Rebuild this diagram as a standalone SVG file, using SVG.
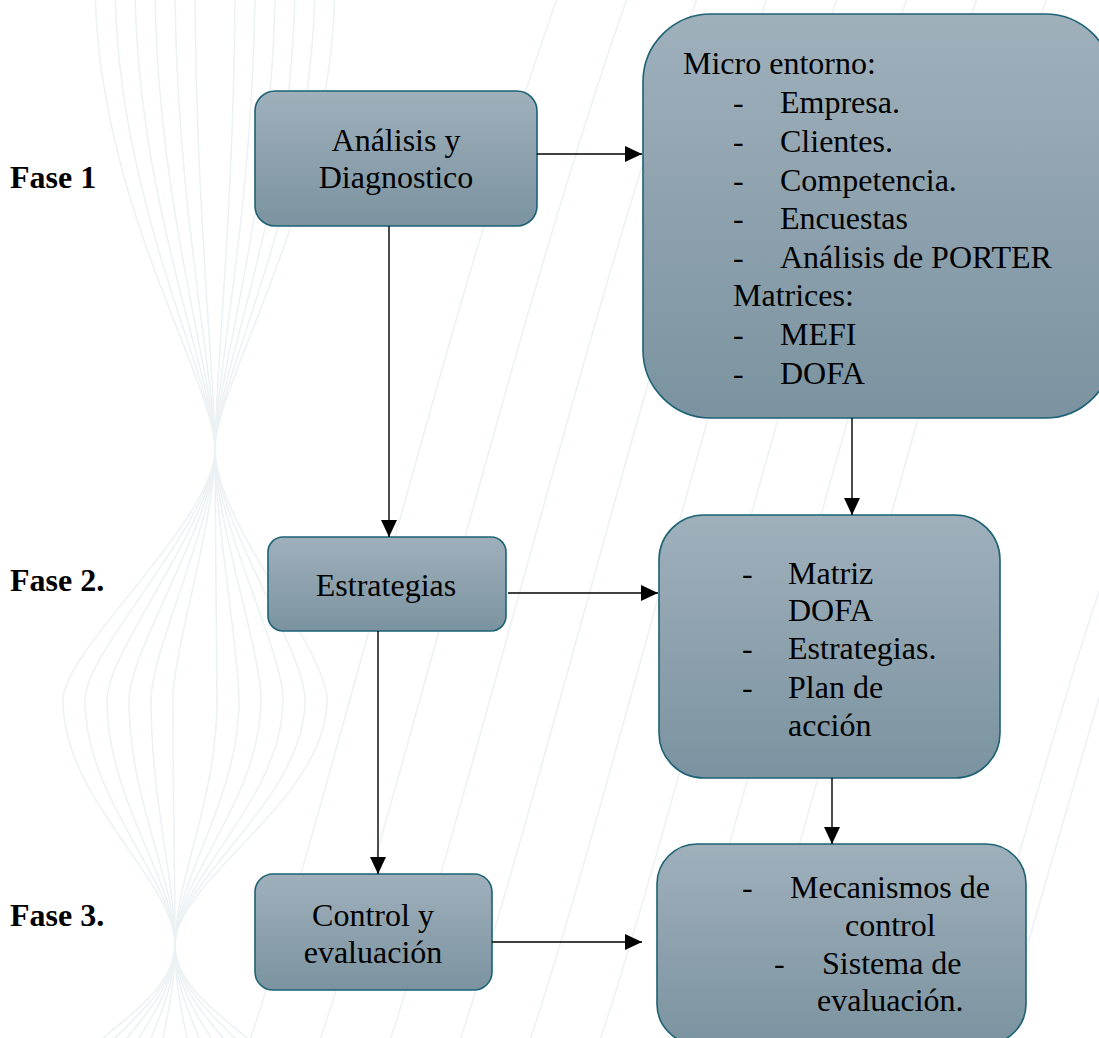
<svg xmlns="http://www.w3.org/2000/svg" width="1099" height="1038" viewBox="0 0 1099 1038">
<defs>
<linearGradient id="boxfill" x1="0" y1="0" x2="0" y2="1">
<stop offset="0" stop-color="#9fb0bb"/>
<stop offset="1" stop-color="#7b93a0"/>
</linearGradient>
<marker id="arr" markerUnits="userSpaceOnUse" markerWidth="18" markerHeight="16" refX="17" refY="8" orient="auto">
<path d="M0,0 L17,8 L0,16 Z" fill="#000"/>
</marker>
<style>
.box{fill:url(#boxfill);stroke:#1d6275;stroke-width:1.6}
.t{font-family:"Liberation Serif","Times New Roman",serif;font-size:32px;fill:#000}
.c{text-anchor:middle}
.fase{font-family:"Liberation Serif","Times New Roman",serif;font-size:32px;font-weight:bold;fill:#000}
.conn{stroke:#000;stroke-width:1.4;fill:none;marker-end:url(#arr)}
.bg{stroke:#ecf1f4;stroke-width:1.5;fill:none}
</style>
</defs>
<rect width="1099" height="1038" fill="#fff"/>
<g id="background">
<path class="bg" d="M95 -20 C95 200 215 380 215 450 C215 520 63 650 63 700 C63 800 175 880 175 945 C175 1000 85 1040 85 1060"/>
<path class="bg" d="M115 -20 C115 200 215 380 215 450 C215 520 85 650 85 700 C85 800 175 880 175 945 C175 1000 100 1040 100 1060"/>
<path class="bg" d="M135 -20 C135 200 215 380 215 450 C215 520 107 650 107 700 C107 800 175 880 175 945 C175 1000 115 1040 115 1060"/>
<path class="bg" d="M155 -20 C155 200 215 380 215 450 C215 520 129 650 129 700 C129 800 175 880 175 945 C175 1000 130 1040 130 1060"/>
<path class="bg" d="M175 -20 C175 200 215 380 215 450 C215 520 151 650 151 700 C151 800 175 880 175 945 C175 1000 145 1040 145 1060"/>
<path class="bg" d="M195 -20 C195 200 215 380 215 450 C215 520 173 650 173 700 C173 800 175 880 175 945 C175 1000 160 1040 160 1060"/>
<path class="bg" d="M235 -20 C235 200 215 380 215 450 C215 520 217 650 217 700 C217 800 175 880 175 945 C175 1000 190 1040 190 1060"/>
<path class="bg" d="M255 -20 C255 200 215 380 215 450 C215 520 239 650 239 700 C239 800 175 880 175 945 C175 1000 205 1040 205 1060"/>
<path class="bg" d="M275 -20 C275 200 215 380 215 450 C215 520 261 650 261 700 C261 800 175 880 175 945 C175 1000 220 1040 220 1060"/>
<path class="bg" d="M295 -20 C295 200 215 380 215 450 C215 520 283 650 283 700 C283 800 175 880 175 945 C175 1000 235 1040 235 1060"/>
<path class="bg" d="M315 -20 C315 200 215 380 215 450 C215 520 305 650 305 700 C305 800 175 880 175 945 C175 1000 250 1040 250 1060"/>
<path class="bg" d="M335 -20 C335 200 215 380 215 450 C215 520 327 650 327 700 C327 800 175 880 175 945 C175 1000 265 1040 265 1060"/>
<path class="bg" d="M250 1040 C330 800 450 300 560 -10"/>
<path class="bg" d="M320 1040 C400 800 520 300 630 -10"/>
<path class="bg" d="M390 1040 C470 800 590 300 700 -10"/>
<path class="bg" d="M460 1040 C540 800 660 300 770 -10"/>
<path class="bg" d="M530 1040 C610 800 730 300 840 -10"/>
<path class="bg" d="M600 1040 C680 800 800 300 910 -10"/>
<path class="bg" d="M670 1040 C750 800 870 300 980 -10"/>
<path class="bg" d="M740 1040 C820 800 940 300 1050 -10"/>
<path class="bg" d="M960 1040 C1010 900 1060 700 1110 560"/>
<path class="bg" d="M1000 1040 C1040 900 1080 760 1110 660"/>
</g>
<g id="labels">
<text class="fase" x="10" y="188">Fase 1</text>
<text class="fase" x="10" y="591">Fase 2.</text>
<text class="fase" x="10" y="926">Fase 3.</text>
</g>
<g id="node-analisis">
<rect class="box" x="255" y="91" width="282" height="135" rx="20"/>
<text class="t c" x="396" y="151">Análisis y</text>
<text class="t c" x="396" y="188">Diagnostico</text>
</g>
<g id="node-micro">
<rect class="box" x="643" y="14" width="470" height="404" rx="68"/>
<text class="t" x="683" y="74">Micro entorno:</text>
<text class="t" x="733" y="113">-</text><text class="t" x="780" y="113">Empresa.</text>
<text class="t" x="733" y="152">-</text><text class="t" x="780" y="152">Clientes.</text>
<text class="t" x="733" y="191">-</text><text class="t" x="780" y="191">Competencia.</text>
<text class="t" x="733" y="229">-</text><text class="t" x="780" y="229">Encuestas</text>
<text class="t" x="733" y="268">-</text><text class="t" x="780" y="268">Análisis de PORTER</text>
<text class="t" x="733" y="306">Matrices:</text>
<text class="t" x="733" y="345">-</text><text class="t" x="780" y="345">MEFI</text>
<text class="t" x="733" y="384">-</text><text class="t" x="780" y="384">DOFA</text>
</g>
<g id="node-estrategias">
<rect class="box" x="268" y="537" width="238" height="94" rx="15"/>
<text class="t c" x="386" y="596">Estrategias</text>
</g>
<g id="node-matriz">
<rect class="box" x="659" y="515" width="341" height="263" rx="45"/>
<text class="t" x="742" y="584">-</text><text class="t" x="788" y="584">Matriz</text>
<text class="t" x="788" y="621">DOFA</text>
<text class="t" x="742" y="659">-</text><text class="t" x="788" y="659">Estrategias.</text>
<text class="t" x="742" y="698">-</text><text class="t" x="788" y="698">Plan de</text>
<text class="t" x="788" y="736">acción</text>
</g>
<g id="node-control">
<rect class="box" x="255" y="874" width="237" height="116" rx="18"/>
<text class="t c" x="373" y="926">Control y</text>
<text class="t c" x="373" y="963">evaluación</text>
</g>
<g id="node-mecanismos">
<rect class="box" x="657" y="844" width="369" height="200" rx="40"/>
<text class="t" x="742" y="898">-</text><text class="t" x="790" y="898">Mecanismos de</text>
<text class="t" x="845" y="936">control</text>
<text class="t" x="774" y="974">-</text><text class="t" x="822" y="974">Sistema de</text>
<text class="t" x="817" y="1011">evaluación.</text>
</g>
<g id="connectors">
<line class="conn" x1="537" y1="154" x2="642" y2="154"/>
<line class="conn" x1="852" y1="418" x2="852" y2="515"/>
<line class="conn" x1="389" y1="226" x2="389" y2="537"/>
<line class="conn" x1="508" y1="593" x2="658" y2="593"/>
<line class="conn" x1="832" y1="778" x2="832" y2="844"/>
<line class="conn" x1="378" y1="631" x2="378" y2="874"/>
<line class="conn" x1="492" y1="942" x2="642" y2="942"/>
</g>
</svg>
